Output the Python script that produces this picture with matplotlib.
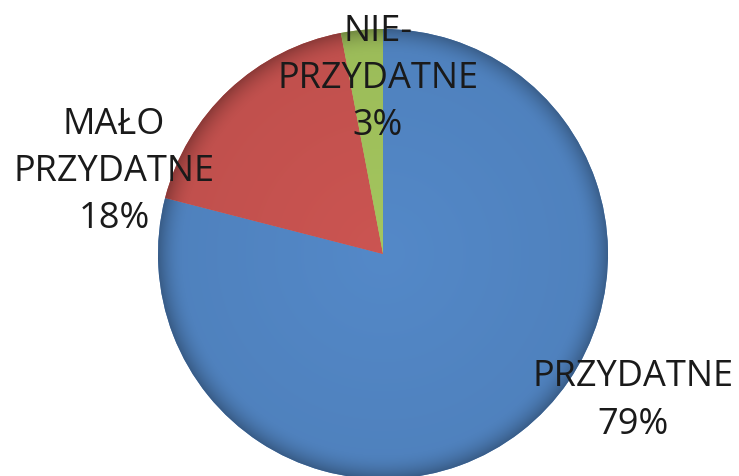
import numpy as np
import matplotlib.pyplot as plt
from matplotlib.colors import to_rgb

categories = ['PRZYDATNE', 'MAŁO\nPRZYDATNE', 'NIE-\nPRZYDATNE']
values = [79, 18, 3]
colors = ['#4F81BD', '#C0504D', '#9BBB59']

plt.rcParams['font.family'] = ['Open Sans', 'DejaVu Sans']

fig = plt.figure(figsize=(7.39, 4.77), dpi=100)
ax = fig.add_axes([0, 0, 1, 1])

cx, cy, R = 383, 222, 225
wedges, _ = ax.pie(values, colors=colors, startangle=90, counterclock=False,
                   center=(cx, cy), radius=R,
                   wedgeprops=dict(edgecolor='none', linewidth=0))

# soft radial shading, clipped to each wedge
yy, xx = np.mgrid[0:477, 0:739]
r = np.hypot(xx - cx, (yy - cy)) / R
shade = 1.0 + 0.06 * (1 - r) - 0.28 * np.clip((r - 0.88) / 0.12, 0, 1) ** 2
shade = np.clip(shade, 0, 1.2)
for w, c in zip(wedges, colors):
    base = np.array(to_rgb(c))
    img = np.clip(base[None, None, :] * shade[..., None], 0, 1)
    im = ax.imshow(img, origin='lower', extent=(0, 739, 0, 477), zorder=2,
                   interpolation='bilinear')
    im.set_clip_path(w)
    w.set_zorder(1)

# labels
pct = [f'{v}%' for v in values]
label_pos = [(633, 76), (114, 305), (378, 398)]
for cat, p, (lx, ly) in zip(categories, pct, label_pos):
    ax.text(lx, ly, cat + '\n' + p, ha='center', va='center', fontsize=26,
            linespacing=1.42, color='#1a1a1a', zorder=5)

ax.set_xlim(0, 739)
ax.set_ylim(0, 477)
ax.set_aspect('equal')
ax.axis('off')

fig.savefig('out.png', dpi=100)
